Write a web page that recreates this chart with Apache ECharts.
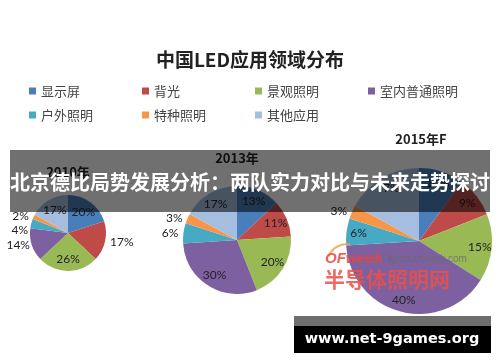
<!DOCTYPE html>
<html><head><meta charset="utf-8">
<script src="https://cdn.jsdelivr.net/npm/echarts@6/dist/echarts.min.js"></script>
<style>html,body{margin:0;padding:0;background:#fff}#c{width:500px;height:362px}</style>
</head><body><div id="c"></div>
<script>
// ---- data ----
const categories = ['显示屏', '背光', '景观照明', '室内普通照明', '户外照明', '特种照明', '其他应用'];
const years = ['2010年', '2013年', '2015年F'];
const share2010 = [20, 17, 26, 14, 4, 2, 17];
const share2013 = [13, 11, 20, 30, 6, 3, 17];
const share2015 = [10, 9, 15, 40, 6, 3, 17];
const chartTitle = '中国LED应用领域分布';
const bannerText = '北京德比局势发展分析：两队实力对比与未来走势探讨';
const siteText = 'www.net-9games.org';
const watermarkBrand = 'OFweek';
const watermarkSite = 'lights.ofweek.com';
const watermarkName = '半导体照明网';

// ---- styling / layout ----
const colors = ['#4a7ebb', '#be4b48', '#98b954', '#7d60a0', '#46aac5', '#f79646', '#a5bddf'];
const labelFont = 'Lato, "Open Sans", sans-serif';
const cjk = '"Noto Sans CJK SC", sans-serif';
const pies = [
  { values: share2010, center: [68, 233], r: 38, labelR: 46, place: ['in','out','in','out','out','out','in'], yearPos: [68, 172] },
  { values: share2013, center: [237, 240], r: 54, labelR: 78, place: ['in','in','in','in','out','out','in'], yearPos: [237, 158] },
  { values: share2015, center: [419, 241], r: 73, labelR: 116, place: ['in','in','in','in','in','out','in'], yearPos: [421, 139] }
];

const series = [];
pies.forEach(p => {
  series.push({
    type: 'pie', center: p.center, radius: [0, p.r], silent: true,
    avoidLabelOverlap: true, animation: false,
    label: { show: true, position: 'outside', formatter: '{c}%', color: '#222', fontSize: 12, fontFamily: labelFont, distanceToLabelLine: 3, overflow: 'none' },
    labelLine: { show: false, length: 2, length2: 0 },
    data: p.values.map((v, i) => ({ name: categories[i], value: v, itemStyle: { color: colors[i] }, label: { show: p.place[i] === 'out' } }))
  });
  series.push({
    type: 'pie', center: p.center, radius: [0, p.labelR], silent: true,
    avoidLabelOverlap: false, animation: false, legendHoverLink: false,
    itemStyle: { color: 'rgba(0,0,0,0)' },
    label: { show: true, position: 'inside', formatter: '{c}%', color: '#222', fontSize: 12, fontFamily: labelFont, overflow: 'none' },
    labelLine: { show: false },
    data: p.values.map((v, i) => ({ name: categories[i], value: v, label: { show: p.place[i] === 'in' } }))
  });
});

const legendCommon = {
  orient: 'horizontal', left: 29, padding: 0, itemWidth: 7, itemHeight: 7, itemGap: 9, icon: 'rect',
  selectedMode: false,
  textStyle: { color: '#444', fontSize: 13, fontFamily: cjk, width: 92, lineHeight: 14 }
};
const legendItem = name => ({ name, itemStyle: { color: colors[categories.indexOf(name)] } });

const graphics = [];
pies.forEach((p, i) => {
  graphics.push({ type: 'text', x: p.yearPos[0], y: p.yearPos[1], z: 10,
    style: { text: years[i], fill: '#222', font: 'bold 13px ' + cjk, textAlign: 'center', textVerticalAlign: 'middle' } });
});
// watermark
graphics.push({ type: 'arc', z: 40, shape: { cx: 347, cy: 264, r: 20, startAngle: Math.PI * 1.12, endAngle: Math.PI * 1.55 },
  style: { stroke: '#f39a3c', lineWidth: 2, fill: null, opacity: 0.8 } });
graphics.push({ type: 'text', x: 325, y: 259, z: 40,
  style: { text: watermarkBrand, fill: '#e8453c', font: 'italic bold 15px "Liberation Sans", sans-serif', textVerticalAlign: 'middle', opacity: 0.85 } });
graphics.push({ type: 'text', x: 382, y: 259, z: 40,
  style: { text: '| ' + watermarkSite, fill: '#6a6a6a', font: '10px "Liberation Sans", sans-serif', textVerticalAlign: 'middle', opacity: 0.8 } });
graphics.push({ type: 'text', x: 324, y: 279, z: 40,
  style: { text: watermarkName, fill: '#e8504a', font: 'bold 21px ' + cjk, textVerticalAlign: 'middle', opacity: 0.85 } });
// banner
graphics.push({ type: 'rect', z: 100, shape: { x: 10, y: 150, width: 480, height: 62 }, style: { fill: 'rgba(0,0,0,0.56)' } });
graphics.push({ type: 'text', x: 250, y: 182, z: 101,
  style: { text: bannerText, fill: '#fff', font: 'bold 20px ' + cjk, textAlign: 'center', textVerticalAlign: 'middle' } });
// bottom box
graphics.push({ type: 'rect', z: 100, shape: { x: 294, y: 316, width: 197, height: 10 }, style: { fill: '#6e6e6e' } });
graphics.push({ type: 'rect', z: 100, shape: { x: 294, y: 326, width: 197, height: 27 }, style: { fill: '#000' } });
graphics.push({ type: 'text', x: 392, y: 339, z: 101,
  style: { text: siteText, fill: '#fff', font: 'bold 14.5px "DejaVu Sans", sans-serif', textAlign: 'center', textVerticalAlign: 'middle' } });

const chart = echarts.init(document.getElementById('c'), null, { renderer: 'canvas' });
chart.setOption({
  backgroundColor: '#fff',
  animation: false,
  color: colors,
  title: { text: chartTitle, left: 'center', top: 50, padding: 0,
    textStyle: { fontSize: 19, fontWeight: 'bold', color: '#222', fontFamily: cjk } },
  legend: [
    Object.assign({}, legendCommon, { top: 84, data: categories.slice(0, 4).map(legendItem) }),
    Object.assign({}, legendCommon, { top: 108, data: categories.slice(4).map(legendItem) })
  ],
  series,
  graphic: graphics
});
</script></body></html>
